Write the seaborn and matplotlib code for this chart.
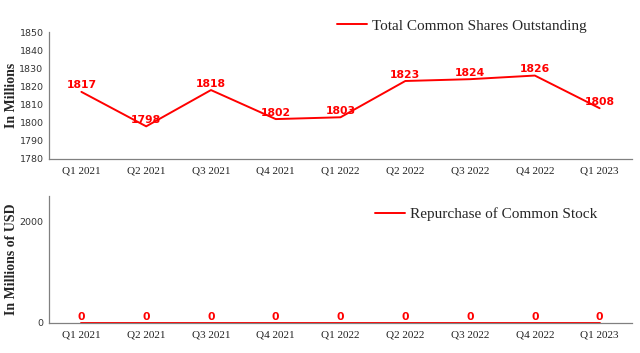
import numpy as np
import pandas as pd
import seaborn as sns
import matplotlib.pyplot as plt
from matplotlib.ticker import MultipleLocator, FixedLocator

quarters = ['Q1 2021', 'Q2 2021', 'Q3 2021', 'Q4 2021', 'Q1 2022',
            'Q2 2022', 'Q3 2022', 'Q4 2022', 'Q1 2023']
shares_outstanding = [1817, 1798, 1818, 1802, 1803, 1823, 1824, 1826, 1808]
repurchases = [0, 0, 0, 0, 0, 0, 0, 0, 0]

RED = '#ff0000'
SPINE = '#808080'


def style_axes(ax):
    sns.despine(ax=ax)
    for side in ('left', 'bottom'):
        ax.spines[side].set_color(SPINE)
        ax.spines[side].set_linewidth(0.9)
    ax.tick_params(axis='both', which='both', color=SPINE, direction='out')
    ax.tick_params(axis='x', which='major', length=3.5, pad=2)
    ax.tick_params(axis='y', which='major', length=3, pad=1)
    ax.tick_params(axis='both', which='minor', length=2)
    ax.set_xlim(-0.5, len(quarters) - 0.5)
    ax.set_xticks(range(len(quarters)))
    ax.set_xticklabels(quarters, family='Liberation Serif', fontsize=8, color='#222222')
    ax.xaxis.set_minor_locator(FixedLocator(np.arange(-0.5, len(quarters), 1.0)))
    for lbl in ax.get_yticklabels():
        lbl.set_family('DejaVu Sans')
        lbl.set_fontsize(6.8)
        lbl.set_color('#333333')
    ax.grid(False)
    ax.set_xlabel('')


def label_points(ax, values, offset):
    for i, v in enumerate(values):
        ax.annotate(str(v), (i, v), xytext=(0, offset), textcoords='offset points',
                    ha='center', va='bottom', color=RED, fontsize=7.8,
                    fontweight='bold', family='DejaVu Sans')


def main():
    sns.set_style('white')
    df = pd.DataFrame({'quarter': np.arange(len(quarters)),
                       'shares': shares_outstanding,
                       'repurchase': repurchases})

    fig = plt.figure(figsize=(6.4, 3.53), dpi=100)
    ax1 = fig.add_axes([0.0766, 0.5496, 0.9109, 0.3597])
    ax2 = fig.add_axes([0.0766, 0.085, 0.9109, 0.3598])

    # Total common shares outstanding
    sns.lineplot(data=df, x='quarter', y='shares', ax=ax1, color=RED, lw=1.4,
                 label='Total Common Shares Outstanding')
    ax1.set_ylim(1780, 1850)
    ax1.yaxis.set_major_locator(MultipleLocator(10))
    ax1.yaxis.set_minor_locator(MultipleLocator(5))
    style_axes(ax1)
    label_points(ax1, shares_outstanding, 1)
    ax1.set_ylabel('In Millions', family='Liberation Serif', fontweight='bold', fontsize=10)
    ax1.yaxis.set_label_coords(-0.053, 0.5)
    ax1.legend(loc='upper left', bbox_to_anchor=(0.47, 1.21), frameon=False,
               prop={'family': 'Liberation Serif', 'size': 11},
               handlelength=2.0, handletextpad=0.3)

    # Repurchase of common stock
    sns.lineplot(data=df, x='quarter', y='repurchase', ax=ax2, color=RED, lw=1.4,
                 label='Repurchase of Common Stock')
    ax2.set_ylim(0, 2500)
    ax2.yaxis.set_major_locator(FixedLocator([0, 2000]))
    ax2.yaxis.set_minor_locator(FixedLocator([1000]))
    style_axes(ax2)
    label_points(ax2, repurchases, 0.5)
    ax2.set_ylabel('In Millions of USD', family='Liberation Serif', fontweight='bold', fontsize=10)
    ax2.yaxis.set_label_coords(-0.053, 0.5)
    ax2.legend(loc='upper left', bbox_to_anchor=(0.535, 1.02), frameon=False,
               prop={'family': 'Liberation Serif', 'size': 11},
               handlelength=2.0, handletextpad=0.3)

    fig.savefig('out.png', dpi=100)


if __name__ == '__main__':
    main()
